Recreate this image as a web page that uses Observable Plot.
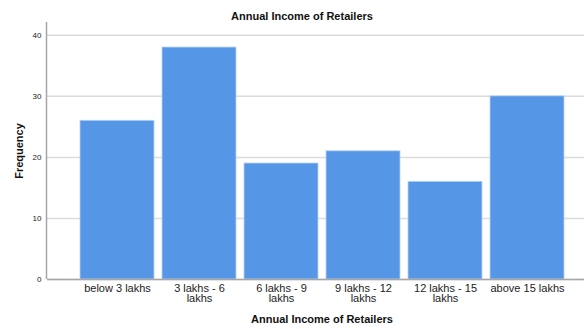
<!DOCTYPE html>
<html>
<head>
<meta charset="utf-8">
<script src="https://cdn.jsdelivr.net/npm/d3@7"></script>
<script src="https://cdn.jsdelivr.net/npm/@observablehq/plot@0.6"></script>
<style>
  html, body { margin: 0; padding: 0; background: white; }
</style>
</head>
<body>
<div id="chart"></div>
<script>
const categories = ["below 3 lakhs", "3 lakhs - 6 lakhs", "6 lakhs - 9 lakhs", "9 lakhs - 12 lakhs", "12 lakhs - 15 lakhs", "above 15 lakhs"];
const tickLabels = ["below 3 lakhs", "3 lakhs - 6\nlakhs", "6 lakhs - 9\nlakhs", "9 lakhs - 12\nlakhs", "12 lakhs - 15\nlakhs", "above 15 lakhs"];
const frequency = [26, 38, 19, 21, 16, 30];
const yTicks = [0, 10, 20, 30, 40];

const data = categories.map((c, i) => ({category: c, frequency: frequency[i]}));

const leftLine = (index, scales, values, dimensions) => {
  const {marginLeft, marginTop, height, marginBottom} = dimensions;
  const line = d3.create("svg:line")
    .attr("x1", marginLeft - 0.5).attr("x2", marginLeft - 0.5)
    .attr("y1", marginTop).attr("y2", height - marginBottom)
    .attr("stroke", "#a6a6a6").attr("stroke-width", 1.5);
  return line.node();
};

const chart = Plot.plot({
  width: 584,
  height: 329,
  marginLeft: 47,
  marginRight: 0,
  marginTop: 22,
  marginBottom: 50,
  style: {fontFamily: "'Liberation Sans', Arial, sans-serif", background: "white", color: "#222"},
  x: {domain: categories, paddingInner: 0.1, paddingOuter: 0, insetLeft: 31.5, insetRight: 18.5, label: null},
  y: {domain: [0, 42.1], label: null},
  marks: [
    Plot.gridY(yTicks, {stroke: "#dcdcdc", strokeOpacity: 1, strokeWidth: 1.5}),
    Plot.barY(data, {x: "category", y: "frequency", fill: "#5596e6", stroke: "#b8d2f3", strokeWidth: 0.8}),
    Plot.ruleY([0], {stroke: "#a6a6a6", strokeWidth: 1.5}),
    leftLine,
    Plot.axisY(yTicks, {tickSize: 0, tickPadding: 6, fontSize: 8, label: null}),
    Plot.axisX({tickSize: 0, tickPadding: 5, fontSize: 11, lineHeight: 0.95, label: null,
      tickFormat: d => tickLabels[categories.indexOf(d)]}),
    Plot.text(["Annual Income of Retailers"], {frameAnchor: "top", dy: -10, dx: -14, fontWeight: "bold", fontSize: 11, fill: "#111"}),
    Plot.text(["Annual Income of Retailers"], {frameAnchor: "bottom", dy: 43, dx: 6, fontWeight: "bold", fontSize: 11, fill: "#111"}),
    Plot.text(["Frequency"], {frameAnchor: "left", textAnchor: "middle", dx: -28, rotate: -90, fontWeight: "bold", fontSize: 11, fill: "#111"})
  ]
});
document.getElementById("chart").appendChild(chart);
</script>
</body>
</html>
